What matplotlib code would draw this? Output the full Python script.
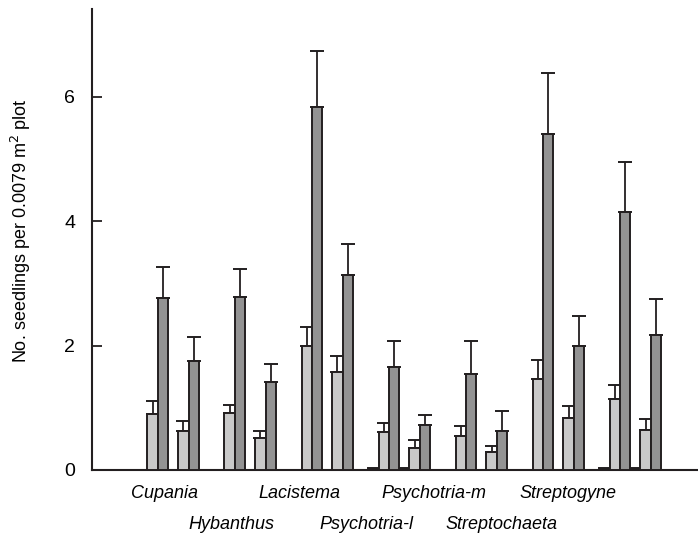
import matplotlib
matplotlib.use("Agg")
import matplotlib.pyplot as plt
import numpy as np

# species along the x axis; each has two groups of three bars
species = ["Cupania", "Hybanthus", "Lacistema", "Psychotria-l",
           "Psychotria-m", "Streptochaeta", "Streptogyne"]

# black bars (mostly zero)
black_vals = [0, 0, 0, 0, 0, 0, 0.04, 0.04, 0, 0, 0, 0, 0.03, 0.03]
# light gray bars and their upper errors
light_vals = [0.90, 0.62, 0.91, 0.51, 2.00, 1.57, 0.61, 0.36,
              0.54, 0.29, 1.46, 0.83, 1.14, 0.64]
light_err = [0.21, 0.17, 0.14, 0.12, 0.30, 0.27, 0.14, 0.12,
             0.17, 0.10, 0.31, 0.20, 0.22, 0.18]
# dark gray bars and their upper errors
dark_vals = [2.76, 1.76, 2.78, 1.41, 5.83, 3.13, 1.65, 0.72,
             1.54, 0.62, 5.40, 2.00, 4.15, 2.17]
dark_err = [0.50, 0.38, 0.45, 0.29, 0.90, 0.51, 0.43, 0.17,
            0.53, 0.33, 0.98, 0.47, 0.81, 0.58]

yticks = [0, 2, 4, 6]

plt.rcParams["font.family"] = ["Liberation Sans", "DejaVu Sans"]

EDGE = "#231f20"
LIGHT = "#c9c9c9"
DARK = "#939393"

fig = plt.figure(figsize=(6.98, 5.38), dpi=100)
ax = fig.add_axes([0.1318, 0.1264, 0.8682, 0.8566])

# bar positions: 6 bars per species, 1.5 bar gap between species
n = len(species)
grp = np.repeat(np.arange(n), 2) * 7.5 + np.tile([0, 3], n)
w = 1.0
bar_kw = dict(width=w, align="edge", edgecolor=EDGE, linewidth=1.4, zorder=3)
err_kw = dict(ecolor=EDGE, elinewidth=1.3, capsize=5, capthick=1.4, zorder=2)

ax.bar(grp, black_vals, color=EDGE, **bar_kw)
ax.bar(grp + 1, light_vals, color=LIGHT, **bar_kw)
ax.errorbar(grp + 1.5, light_vals, yerr=[np.zeros(len(light_err)), light_err],
            fmt="none", **err_kw)
ax.bar(grp + 2, dark_vals, color=DARK, **bar_kw)
ax.errorbar(grp + 2.5, dark_vals, yerr=[np.zeros(len(dark_err)), dark_err],
            fmt="none", **err_kw)

ax.set_xlim(-4.4, 54.6)
ax.set_ylim(0, 7.41)

for s in ("top", "right"):
    ax.spines[s].set_visible(False)
for s in ("left", "bottom"):
    ax.spines[s].set_linewidth(1.5)
    ax.spines[s].set_color(EDGE)

ax.set_yticks(yticks)
ax.tick_params(axis="y", direction="in", length=7, width=1.3, color=EDGE,
               labelsize=14, pad=12)
ax.tick_params(axis="x", bottom=False, labelbottom=False)
ax.set_ylabel("No. seedlings per 0.0079 m$^2$ plot", fontsize=13)
ax.yaxis.set_label_coords(-0.097, 0.52)

# species names, staggered on two rows
for i, name in enumerate(species):
    xpos = 2.63 + i * 6.56
    ypos = -0.37 if i % 2 == 0 else -0.88
    ax.text(xpos, ypos, name, ha="center", va="center", fontsize=13,
            style="italic", clip_on=False)

fig.savefig("out.png", dpi=100)
